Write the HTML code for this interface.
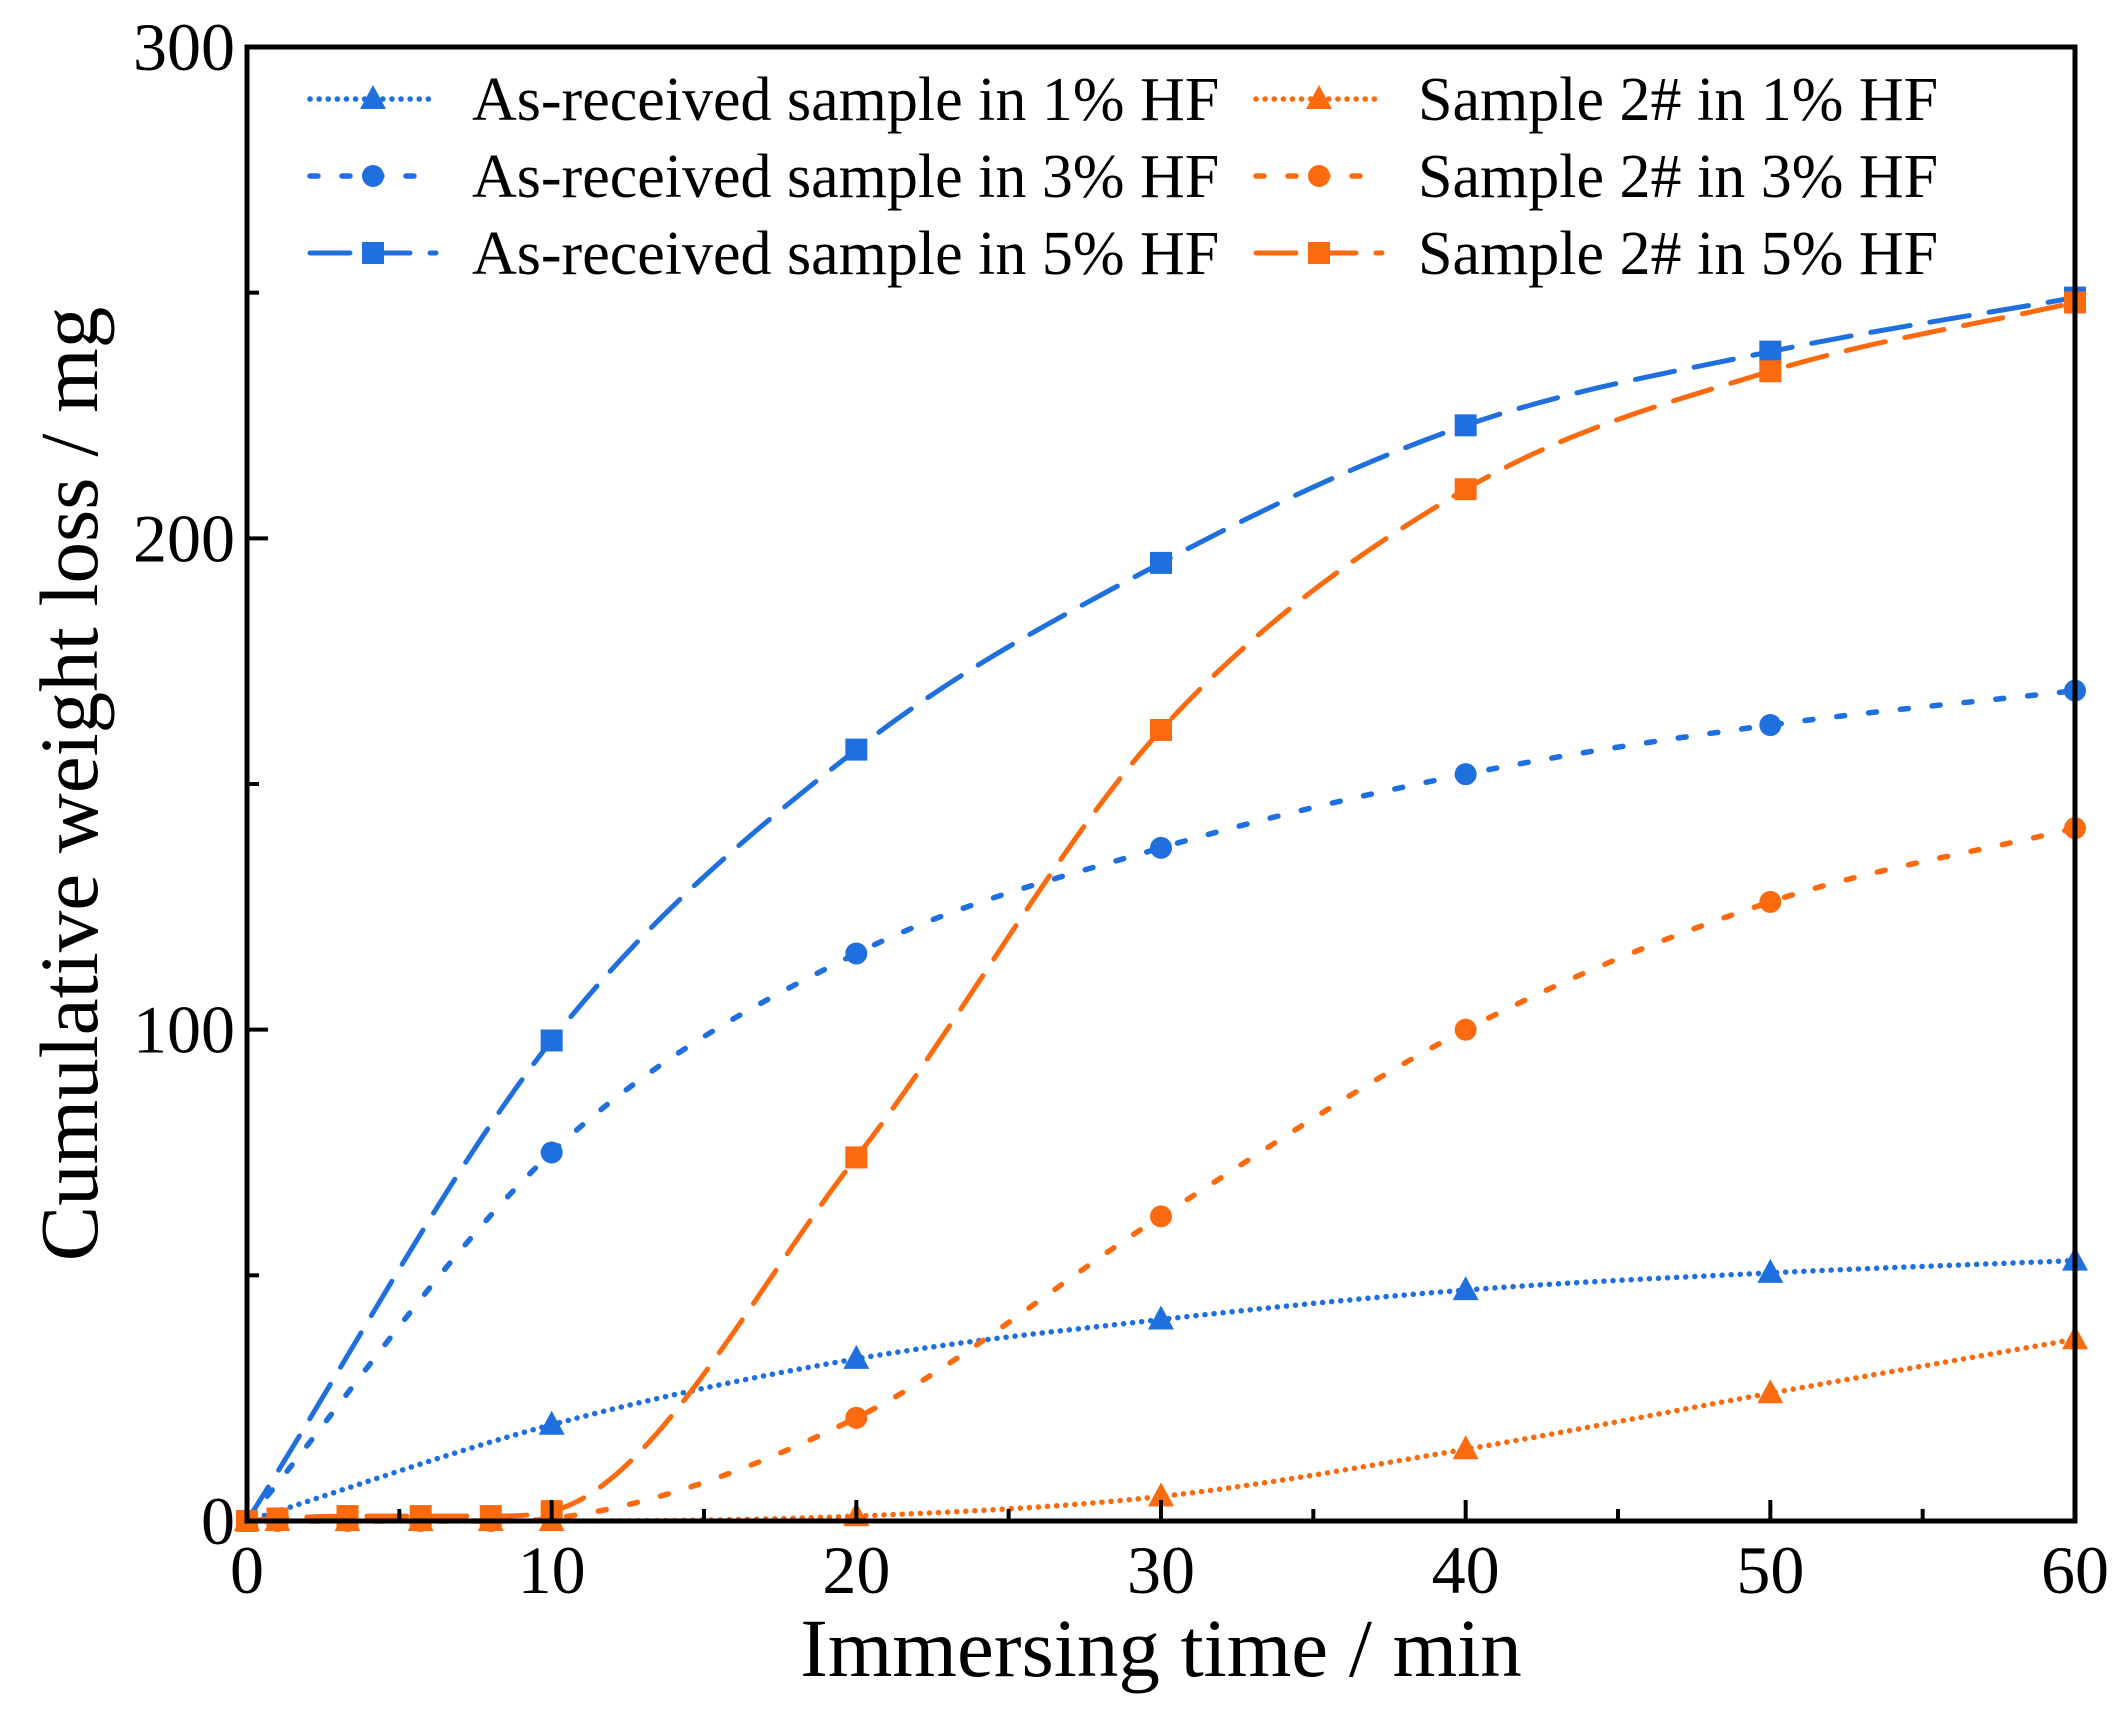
<!DOCTYPE html>
<html><head><meta charset="utf-8"><style>
html,body{margin:0;padding:0;background:#fff;}
svg{display:block;font-family:"Liberation Serif",serif;}
</style></head><body>
<svg id="chart" width="2124" height="1717" viewBox="0 0 2124 1717"></svg>
<script>
const xCats = [0, 10, 20, 30, 40, 50, 60];
const xTicks = [0, 10, 20, 30, 40, 50, 60];
const yTicks = [0, 100, 200, 300];
const blue1 = [0, 19.6, 33, 41, 47, 50.5, 53];
const blue3 = [0, 75, 115.5, 137, 152, 162, 169];
const blue5 = [0, 97.8, 157, 195, 223, 238, 249];
const org1x = [0, 1, 3.3, 5.7, 8, 10, 20, 30, 40, 50, 60];
const org1 = [0, 0, 0, 0, 0, 0, 1, 5, 14.6, 26, 37];
const org3x = [0, 1, 3.3, 5.7, 8, 10, 20, 30, 40, 50, 60];
const org3 = [0, 0, 0, 0, 0, 0.5, 21, 62, 100, 126, 141];
const org5x = [0, 1, 3.3, 5.7, 8, 10, 20, 30, 40, 50, 60];
const org5 = [0, 0.5, 1, 1, 1, 2, 74, 161, 210, 234, 248];
const legendLabels = ["As-received sample in 1% HF","As-received sample in 3% HF","As-received sample in 5% HF","Sample 2# in 1% HF","Sample 2# in 3% HF","Sample 2# in 5% HF"];

const L=247,R=2075,T=47,B=1521;
const X=v=>L+(v-0)/(60-0)*(R-L);
const Y=v=>B-(v-0)/(300-0)*(B-T);
const NS="http://www.w3.org/2000/svg";
const svg=document.getElementById('chart');
function mk(tag,attrs,parent){const e=document.createElementNS(NS,tag);for(const k in attrs)e.setAttribute(k,attrs[k]);(parent||svg).appendChild(e);return e;}
const BLUE="#1f6fdf",ORANGE="#fb6a0e";
const styles={1:{dash:"0.1 9",w:5.5},3:{dash:"8 24",w:5.5},5:{dash:"40 20",w:5}};

// monotone cubic (Fritsch-Carlson)
function smoothPath(pts){
  const n=pts.length,dx=[],m=[],t=new Array(n);
  for(let i=0;i<n-1;i++){dx[i]=pts[i+1][0]-pts[i][0];m[i]=(pts[i+1][1]-pts[i][1])/dx[i];}
  t[0]=m[0];t[n-1]=m[n-2];
  for(let i=1;i<n-1;i++){t[i]=(m[i-1]*m[i]<=0)?0:(m[i-1]+m[i])/2;}
  for(let i=0;i<n-1;i++){
    if(m[i]===0){t[i]=0;t[i+1]=0;continue;}
    const a=t[i]/m[i],b=t[i+1]/m[i],s=a*a+b*b;
    if(s>9){const k=3/Math.sqrt(s);t[i]=k*a*m[i];t[i+1]=k*b*m[i];}
  }
  let d=`M${pts[0][0]},${pts[0][1]}`;
  for(let i=0;i<n-1;i++){
    const h=dx[i]/3;
    d+=` C${pts[i][0]+h},${pts[i][1]+t[i]*h} ${pts[i+1][0]-h},${pts[i+1][1]-t[i+1]*h} ${pts[i+1][0]},${pts[i+1][1]}`;
  }
  return d;
}
function marker(type,cx,cy,color,g){
  let m;
  if(type===1){m=mk('polygon',{points:`${cx},${cy-14} ${cx-13},${cy+10} ${cx+13},${cy+10}`,fill:color},g);}
  else if(type===3){m=mk('circle',{cx:cx,cy:cy,r:11,fill:color},g);}
  else {m=mk('rect',{x:cx-11,y:cy-11,width:22,height:22,fill:color},g);}
  return m;
}
function series(name,xs,ys,type,color){
  const g=mk('g',{});
  
  
  const pts=xs.map((x,i)=>[X(x),Y(ys[i])]);
  const st=styles[type];
  const p=mk('path',{d:smoothPath(pts),fill:'none',stroke:color,'stroke-width':st.w,'stroke-dasharray':st.dash,'stroke-linecap':'round'},g);
  
  
  pts.forEach(pt=>{const m=marker(type,pt[0],pt[1],color,g);
    
    });
}
series('as-received-5pct',xCats,blue5,5,BLUE);
series('as-received-3pct',xCats,blue3,3,BLUE);
series('as-received-1pct',xCats,blue1,1,BLUE);
series('sample2-5pct',org5x,org5,5,ORANGE);
series('sample2-3pct',org3x,org3,3,ORANGE);
series('sample2-1pct',org1x,org1,1,ORANGE);

const fr=mk('rect',{x:L,y:T,width:R-L,height:B-T,fill:'none',stroke:'#000','stroke-width':5});


for(let v=0;v<=60;v+=5){const major=v%10===0;const len=major?21:12;
  const t=mk('line',{x1:X(v),x2:X(v),y1:B,y2:B-len,stroke:'#000','stroke-width':4});
  
  }
for(let v=0;v<=300;v+=50){const major=v%100===0;const len=major?21:12;
  const t=mk('line',{x1:L,x2:L+len,y1:Y(v),y2:Y(v),stroke:'#000','stroke-width':4});
  
  }
xTicks.forEach(v=>{const t=mk('text',{x:X(v),y:B+72,'font-size':68,'text-anchor':'middle'});t.textContent=v;
  
  });
yTicks.forEach(v=>{const t=mk('text',{x:L-12,y:Y(v)+23,'font-size':68,'text-anchor':'end'});t.textContent=v;
  
  });
const xt=mk('text',{x:(L+R)/2,y:1676,'font-size':83,'text-anchor':'middle'});xt.textContent='Immersing time / min';


const yt=mk('text',{x:0,y:0,'font-size':83,'text-anchor':'middle',transform:`translate(97,${(T+B)/2}) rotate(-90)`});yt.textContent='Cumulative weight loss / mg';



const legX=[310,1256],legY=[99,176,253];
legendLabels.forEach((lab,i)=>{
  const col=Math.floor(i/3),row=i%3,type=[1,3,5][row],color=col?ORANGE:BLUE;
  const g=mk('g',{});
  
  
  const x0=legX[col],y0=legY[row];
  mk('line',{x1:x0,x2:x0+126,y1:y0,y2:y0,stroke:color,'stroke-width':styles[type].w,'stroke-dasharray':styles[type].dash,'stroke-linecap':'round'},g);
  marker(type,x0+63,y0,color,g);
  const t=mk('text',{x:x0+162,y:y0+21,'font-size':62},g);t.textContent=lab;
});
</script>
</body></html>
